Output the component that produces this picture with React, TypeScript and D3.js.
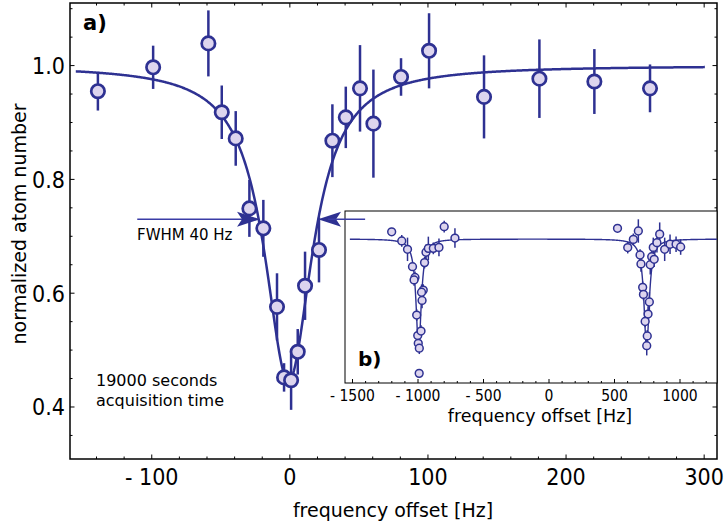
import React from "react";
import * as d3 from "d3";

// ---- main panel data (a) ----
const freqA = [-139, -99, -59, -49.3, -39.2, -29.3, -19.2, -9.3, -4.2, 0.9, 5.7, 11, 21.1, 30.8, 40.5, 50.8, 60.5, 80.5, 100.8, 140.6, 180.7, 220.5, 260.8];
const atomsA = [0.955, 0.997, 1.039, 0.918, 0.872, 0.749, 0.714, 0.576, 0.452, 0.447, 0.497, 0.613, 0.676, 0.868, 0.909, 0.96, 0.898, 0.98, 1.026, 0.945, 0.977, 0.972, 0.96];
const errA = [0.034, 0.038, 0.058, 0.047, 0.048, 0.05, 0.05, 0.059, 0.025, 0.052, 0.04, 0.06, 0.057, 0.064, 0.054, 0.076, 0.095, 0.033, 0.066, 0.073, 0.069, 0.057, 0.042];
// Lorentzian fit parameters: baseline, depth, center, half width
const fitA = [1.0, 0.555, -1, 21];
const xTicksA = [-100, 0, 100, 200, 300];
const yTicksA = [0.4, 0.6, 0.8, 1.0];

// ---- inset data (b) ----
const freqB = [-1201, -1124, -1080, -1042, -1023, -1030, -1010, -1002, -998, -990, -991, -977, -969, -960, -973, -950, -939, -921, -883, -840, -800, -718,
  523, 601, 644, 682, 695, 702, 715, 721, 766, 756, 734, 750, 746, 773, 784, 803, 796, 824, 845, 883, 924, 970, 1005];
const atomsB = [1.037, 0.99, 0.947, 0.858, 0.803, 0.79, 0.61, 0.505, 0.465, 0.44, 0.311, 0.528, 0.685, 0.738, 0.727, 0.879, 0.932, 0.952, 0.952, 0.957, 1.063, 1.005,
  1.055, 0.956, 0.998, 1.041, 0.918, 0.872, 0.752, 0.716, 0.677, 0.615, 0.577, 0.503, 0.453, 0.868, 0.909, 0.896, 0.957, 0.981, 1.025, 0.947, 0.973, 0.973, 0.959];
const errB = [0.02, 0.03, 0.06, 0.02, 0.03, 0.03, 0.03, 0.03, 0.03, 0.03, 0.02, 0.03, 0.04, 0.03, 0.04, 0.03, 0.04, 0.06, 0.03, 0.045, 0.03, 0.05,
  0.02, 0.03, 0.03, 0.06, 0.03, 0.04, 0.03, 0.03, 0.05, 0.04, 0.03, 0.03, 0.05, 0.05, 0.04, 0.04, 0.05, 0.05, 0.06, 0.06, 0.05, 0.04, 0.04];
// two Lorentzian dips: baseline, depth, centers, half width
const fitB = [1.0, 0.56, -995, 745, 24];
const xTicksB = [-1500, -1000, -500, 0, 500, 1000];

const BLUE = "#2e3192";
const FILL = "#ddd5ee";
const ARROW = "#3a3ca6";

const fmt = (v: number, dec: number) => (v < 0 ? "- " + Math.abs(v).toFixed(dec) : v.toFixed(dec));

export default function App() {
  const W = 725, H = 528;
  const L = 70, R = 717, T = 3, B = 459;
  const x = d3.scaleLinear().domain([-159.2, 309.3]).range([L, R]);
  const y = d3.scaleLinear().domain([0.3086, 1.11]).range([B, T]);

  const lor = (f: number) => fitA[0] - fitA[1] / (1 + ((f - fitA[2]) / fitA[3]) ** 2);
  const fitPts = d3.range(-155, 301, 0.5).map((f) => [f, lor(f)] as [number, number]);
  const line = d3.line<[number, number]>().x((d) => x(d[0])).y((d) => y(d[1]));

  // inset
  const iL = 345, iR = 717, iT = 211, iB = 383;
  const xi = d3.scaleLinear().domain([(iL - 549) / 0.131, (iR - 549) / 0.131]).range([iL, iR]);
  const yi = d3.scaleLinear().domain([1 - (iB - 239) / 195, 1 + (239 - iT) / 195]).range([iB, iT]);
  const lorB = (f: number) =>
    fitB[0] - fitB[1] / (1 + ((f - fitB[2]) / fitB[4]) ** 2) - fitB[1] / (1 + ((f - fitB[3]) / fitB[4]) ** 2);
  const fitBPts = d3.range(-1520, 1290, 1).map((f) => [f, lorB(f)] as [number, number]);
  const lineB = d3.line<[number, number]>().x((d) => xi(d[0])).y((d) => yi(d[1]));

  const minorX = d3.range(-140, 310, 20);
  const minorY = d3.range(0.35, 1.11, 0.05);
  const minorXB = d3.range(-1500, 1290, 100);

  // arrows (data units)
  const arrowY = y(0.73);
  const la = { from: x(-110.5), to: x(-21.6) };
  const ra = { from: x(54.5), to: x(20.4) };
  const head = (tip: number, dir: number) => {
    const len = 23, hw = 7.5, notch = 5;
    return `M${tip},${arrowY} L${tip - dir * len},${arrowY - hw} L${tip - dir * (len - notch)},${arrowY} L${tip - dir * len},${arrowY + hw} Z`;
  };

  const tickFont = "'DejaVu Sans', sans-serif";

  return (
    <svg width={W} height={H} style={{ position: "absolute", left: 0, top: 0, background: "#fff" }} fontFamily="'DejaVu Sans', sans-serif">
      <rect x={0} y={0} width={W} height={H} fill="#fff" />
      {/* frame */}
      <rect x={L} y={T} width={R - L} height={B - T} fill="none" stroke="#000" strokeWidth={1.5} />
      {/* ticks x */}
      {minorX.map((v) => {
        const major = xTicksA.includes(v);
        const len = major ? 4.5 : 2.5;
        return (
          <g key={"tx" + v}>
            <line x1={x(v)} x2={x(v)} y1={B} y2={B - len} stroke="#000" strokeWidth={1} />
            <line x1={x(v)} x2={x(v)} y1={T} y2={T + len} stroke="#000" strokeWidth={1} />
          </g>
        );
      })}
      {minorY.map((v) => {
        const major = yTicksA.some((t) => Math.abs(t - v) < 1e-6);
        const len = major ? 4.5 : 2.5;
        return (
          <g key={"ty" + v}>
            <line x1={L} x2={L + len} y1={y(v)} y2={y(v)} stroke="#000" strokeWidth={1} />
            <line x1={R} x2={R - len} y1={y(v)} y2={y(v)} stroke="#000" strokeWidth={1} />
          </g>
        );
      })}
      {xTicksA.map((v) => (
        <text key={"lx" + v} x={x(v)} y={485} textAnchor="middle" fontSize={23} fontFamily={tickFont} style={{ fontStretch: "condensed" }}>
          {fmt(v, 0)}
        </text>
      ))}
      {yTicksA.map((v) => (
        <text key={"ly" + v} x={65} y={y(v) + 8.5} textAnchor="end" fontSize={23} fontFamily={tickFont} style={{ fontStretch: "condensed" }}>
          {v.toFixed(1)}
        </text>
      ))}
      <text x={393} y={517} textAnchor="middle" fontSize={19}>
        frequency offset [Hz]
      </text>
      <text transform={`translate(26,${224}) rotate(-90)`} textAnchor="middle" fontSize={19}>
        normalized atom number
      </text>

      {/* fit curve */}
      <path d={line(fitPts) || ""} fill="none" stroke={BLUE} strokeWidth={2.5} />
      {/* data */}
      {freqA.map((f, i) => (
        <g key={"pa" + i}>
          <line x1={x(f)} x2={x(f)} y1={y(atomsA[i] - errA[i])} y2={y(atomsA[i] + errA[i])} stroke={BLUE} strokeWidth={2.5} />
          <circle cx={x(f)} cy={y(atomsA[i])} r={6.7} fill={FILL} stroke={BLUE} strokeWidth={2.7} />
        </g>
      ))}

      <text x={83} y={30} fontSize={21} fontWeight="bold">a)</text>
      <text x={137} y={240} fontSize={15}>FWHM 40 Hz</text>
      <text x={96} y={386} fontSize={16}>19000 seconds</text>
      <text x={96} y={406} fontSize={16}>acquisition time</text>

      {/* left arrow */}
      <line x1={la.from} x2={la.to - 10} y1={arrowY} y2={arrowY} stroke={ARROW} strokeWidth={1.5} />
      <path d={head(la.to, 1)} fill={BLUE} />
      <path d={head(ra.to, -1)} fill={BLUE} />

      {/* inset */}
      <rect x={iL} y={iT} width={iR - iL} height={iB - iT} fill="#fff" stroke="#000" strokeWidth={1} />
      <line x1={ra.to + 10} x2={ra.from} y1={arrowY} y2={arrowY} stroke={ARROW} strokeWidth={1.5} />
      {minorXB.map((v) => {
        const major = xTicksB.includes(v);
        const len = major ? 4 : 2;
        return <line key={"tb" + v} x1={xi(v)} x2={xi(v)} y1={iB} y2={iB - len} stroke="#000" strokeWidth={1} />;
      })}
      {xTicksB.map((v) => (
        <text key={"lb" + v} x={xi(v)} y={400.5} textAnchor="middle" fontSize={15.5} fontFamily={tickFont} style={{ fontStretch: "condensed" }}>
          {fmt(v, 0)}
        </text>
      ))}
      <text x={540} y={422} textAnchor="middle" fontSize={17.5}>frequency offset [Hz]</text>
      <defs>
        <clipPath id="insetClip">
          <rect x={iL} y={iT} width={iR - iL} height={iB - iT} />
        </clipPath>
      </defs>
      <g clipPath="url(#insetClip)">
        <path d={lineB(fitBPts) || ""} fill="none" stroke={BLUE} strokeWidth={1.4} />
        {freqB.map((f, i) => (
          <line key={"eb" + i} x1={xi(f)} x2={xi(f)} y1={yi(atomsB[i] - errB[i])} y2={yi(atomsB[i] + errB[i])} stroke={BLUE} strokeWidth={1.5} />
        ))}
        {freqB.map((f, i) => (
          <circle key={"pb" + i} cx={xi(f)} cy={yi(atomsB[i])} r={3.9} fill={FILL} stroke={BLUE} strokeWidth={1.5} />
        ))}
      </g>
      <text x={358} y={366} fontSize={20} fontWeight="bold">b)</text>
    </svg>
  );
}
